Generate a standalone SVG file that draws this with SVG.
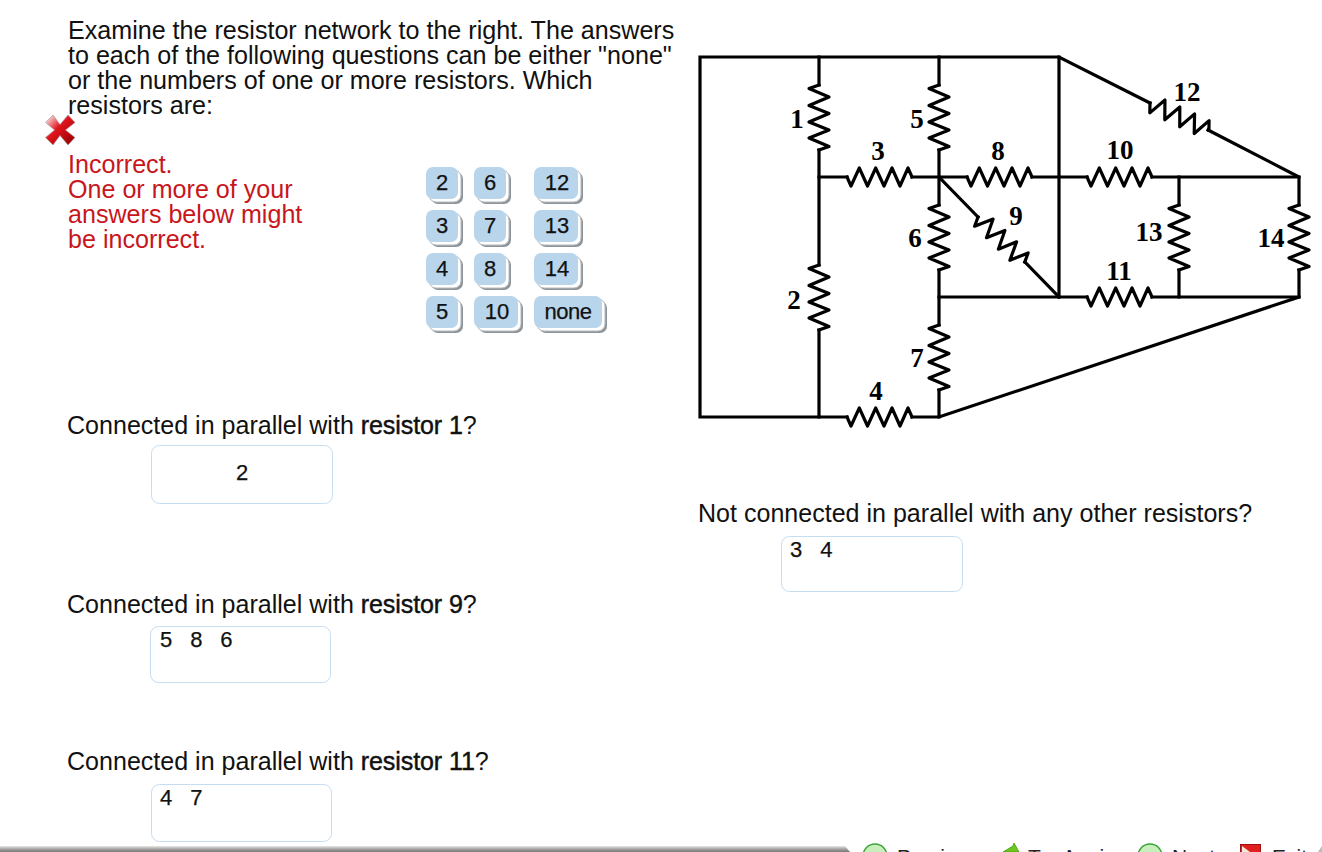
<svg xmlns="http://www.w3.org/2000/svg" width="1322" height="852" viewBox="0 0 1322 852">
<style>
.t{font-family:"Liberation Sans",Arial,sans-serif;font-size:25.1px;fill:#111}
.q{font-family:"Liberation Sans",Arial,sans-serif;font-size:25.05px;fill:#111}
.b{stroke:#111;stroke-width:.45px;letter-spacing:-.1px}
.r{fill:#c8161c}
.w{fill:none;stroke:#000;stroke-width:3.2;stroke-linejoin:miter;stroke-linecap:square}
.zz{fill:none;stroke:#000;stroke-width:3.2;stroke-linejoin:round;stroke-linecap:square}
.l{font-family:"Liberation Serif","Times New Roman",serif;font-weight:bold;font-size:27px;text-anchor:middle;fill:#000}
.a{font-family:"Liberation Sans",Arial,sans-serif;font-size:22px;fill:#111;stroke:#111;stroke-width:.25px}
.n{word-spacing:11.800px}
.f{font-family:"Liberation Sans",Arial,sans-serif;font-size:21px;fill:#222}
.c{text-anchor:middle}
.box{fill:#fff;stroke:#c6dcf1;stroke-width:1}
.btn{fill:#b9d5ec}
.s1{fill:#fff;stroke:#b5b9bd;stroke-width:1}
.s2{fill:#8d9499}
</style>
<defs>
<path id="z" class="zz" d="M0 0L4 9L12.300 -9L20.500 9L28.700 -9L37 9L45 -9L53 9L61 -9L65 0"/>
<path id="v" class="zz" d="M0 0L-10 3.500L10 12L-10 20.500L10 28.500L-10 37L10 45L-10 53L10 61.500L0 65"/>
<linearGradient id="bar" x1="0" y1="0" x2="0" y2="1"><stop offset="0" stop-color="#e8e8e8"/><stop offset=".5" stop-color="#a5a5a5"/><stop offset="1" stop-color="#777"/></linearGradient>
<linearGradient id="xg" x1="0" y1="0" x2="1" y2="1"><stop offset=".08" stop-color="#f7dcdc"/><stop offset=".42" stop-color="#e2141c"/><stop offset="1" stop-color="#8c0000"/></linearGradient>
</defs>
<rect width="1322" height="852" fill="#fff"/>

<g id="intro">
<text class="t" x="68" y="38.600">Examine the resistor network to the right. The answers</text>
<text class="t" x="68" y="63.600">to each of the following questions can be either "none"</text>
<text class="t" x="68" y="88.600">or the numbers of one or more resistors. Which</text>
<text class="t" x="68" y="113.600">resistors are:</text>
</g>
<g id="incorrect-icon">
<path d="M45.500 122.500L53 115L60 124.500L68 115L75 122.500L65.500 130L75 137.500L68 145L60 135.500L53 145L45.500 137.500L54.500 130Z" fill="url(#xg)" stroke="#a8a0a0" stroke-width=".7"/>
</g>
<g id="feedback">
<text class="t r" x="68" y="172.600">Incorrect.</text>
<text class="t r" x="68" y="197.600">One or more of your</text>
<text class="t r" x="68" y="222.600">answers below might</text>
<text class="t r" x="68" y="247.600">be incorrect.</text>
</g>

<g id="answer-bank">
<g id="btn-2"><rect x="431" y="172" width="32" height="32" rx="7" class="s2"/><rect x="429" y="170" width="32" height="32" rx="7" class="s1"/><rect x="426" y="167" width="32" height="32" rx="7" class="btn"/><text class="a c" x="442" y="190">2</text></g>
<g id="btn-3"><rect x="431" y="215" width="32" height="32" rx="7" class="s2"/><rect x="429" y="213" width="32" height="32" rx="7" class="s1"/><rect x="426" y="210" width="32" height="32" rx="7" class="btn"/><text class="a c" x="442" y="233">3</text></g>
<g id="btn-4"><rect x="431" y="258" width="32" height="32" rx="7" class="s2"/><rect x="429" y="256" width="32" height="32" rx="7" class="s1"/><rect x="426" y="253" width="32" height="32" rx="7" class="btn"/><text class="a c" x="442" y="276">4</text></g>
<g id="btn-5"><rect x="431" y="301" width="32" height="32" rx="7" class="s2"/><rect x="429" y="299" width="32" height="32" rx="7" class="s1"/><rect x="426" y="296" width="32" height="32" rx="7" class="btn"/><text class="a c" x="442" y="319">5</text></g>
<g id="btn-6"><rect x="479" y="172" width="32" height="32" rx="7" class="s2"/><rect x="477" y="170" width="32" height="32" rx="7" class="s1"/><rect x="474" y="167" width="32" height="32" rx="7" class="btn"/><text class="a c" x="490" y="190">6</text></g>
<g id="btn-7"><rect x="479" y="215" width="32" height="32" rx="7" class="s2"/><rect x="477" y="213" width="32" height="32" rx="7" class="s1"/><rect x="474" y="210" width="32" height="32" rx="7" class="btn"/><text class="a c" x="490" y="233">7</text></g>
<g id="btn-8"><rect x="479" y="258" width="32" height="32" rx="7" class="s2"/><rect x="477" y="256" width="32" height="32" rx="7" class="s1"/><rect x="474" y="253" width="32" height="32" rx="7" class="btn"/><text class="a c" x="490" y="276">8</text></g>
<g id="btn-10"><rect x="479" y="301" width="44" height="32" rx="7" class="s2"/><rect x="477" y="299" width="44" height="32" rx="7" class="s1"/><rect x="474" y="296" width="44" height="32" rx="7" class="btn"/><text class="a c" x="497" y="319">10</text></g>
<g id="btn-12"><rect x="539" y="172" width="44" height="32" rx="7" class="s2"/><rect x="537" y="170" width="44" height="32" rx="7" class="s1"/><rect x="534" y="167" width="44" height="32" rx="7" class="btn"/><text class="a c" x="557" y="190">12</text></g>
<g id="btn-13"><rect x="539" y="215" width="44" height="32" rx="7" class="s2"/><rect x="537" y="213" width="44" height="32" rx="7" class="s1"/><rect x="534" y="210" width="44" height="32" rx="7" class="btn"/><text class="a c" x="557" y="233">13</text></g>
<g id="btn-14"><rect x="539" y="258" width="44" height="32" rx="7" class="s2"/><rect x="537" y="256" width="44" height="32" rx="7" class="s1"/><rect x="534" y="253" width="44" height="32" rx="7" class="btn"/><text class="a c" x="557" y="276">14</text></g>
<g id="btn-none"><rect x="539" y="301" width="68" height="32" rx="7" class="s2"/><rect x="537" y="299" width="68" height="32" rx="7" class="s1"/><rect x="534" y="296" width="68" height="32" rx="7" class="btn"/><text class="a c" x="568" y="319" letter-spacing="-.5">none</text></g>
</g>

<g id="q1"><text class="q" x="67" y="434.400">Connected in parallel with <tspan class="b">resistor 1</tspan>?</text><rect class="box" x="151.500" y="445.500" width="181" height="58" rx="8"/><text class="a c" x="242" y="480">2</text></g>
<g id="q2"><text class="q" x="67" y="612.600">Connected in parallel with <tspan class="b">resistor 9</tspan>?</text><rect class="box" x="150.500" y="626.500" width="180" height="56" rx="8"/><text class="a n" x="160" y="647">5 8 6</text></g>
<g id="q3"><text class="q" x="67" y="770.400">Connected in parallel with <tspan class="b">resistor 11</tspan>?</text><rect class="box" x="151.500" y="784.500" width="180" height="57" rx="8"/><text class="a n" x="160" y="805">4 7</text></g>
<g id="q4"><text class="q" x="698" y="521.600">Not connected in parallel with any other resistors?</text><rect class="box" x="781.500" y="536.500" width="181" height="55" rx="8"/><text class="a n" x="790" y="556.500">3 4</text></g>

<g id="connectors">
<path class="w" d="M700 417V57H1059L1150 103M1208 130L1299 177V205M1299 270V297L939 417H912M847 417H700"/>
<path class="w" d="M819 57V85M819 150V265M819 330V417M939 57V85M939 150V205M939 270V325M939 390V417M1059 57V297"/>
<path class="w" d="M819 177H847M912 177H967M1032 177H1087M1152 177H1299M939 297H1087M1152 297H1299"/>
<path class="w" d="M1179 177V205M1179 270V297M939 177L978 217M1025 262L1059 297"/>
</g>

<g id="r1"><use href="#v" transform="translate(819 85)"/><text class="l" x="797" y="128">1</text></g>
<g id="r2"><use href="#v" transform="translate(819 265)"/><text class="l" x="794" y="309">2</text></g>
<g id="r3"><use href="#z" transform="translate(847 177)"/><text class="l" x="878" y="160">3</text></g>
<g id="r4"><use href="#z" transform="translate(847 417)"/><text class="l" x="876" y="400">4</text></g>
<g id="r5"><use href="#v" transform="translate(939 85)"/><text class="l" x="917" y="128">5</text></g>
<g id="r6"><use href="#v" transform="translate(939 205)"/><text class="l" x="915" y="247">6</text></g>
<g id="r7"><use href="#v" transform="translate(939 325)"/><text class="l" x="917" y="367">7</text></g>
<g id="r8"><use href="#z" transform="translate(967 177)"/><text class="l" x="998" y="160">8</text></g>
<g id="r9"><use href="#z" transform="translate(978 217) rotate(44)"/><text class="l" x="1016" y="225">9</text></g>
<g id="r10"><use href="#z" transform="translate(1087 177)"/><text class="l" x="1120" y="159">10</text></g>
<g id="r11"><use href="#z" transform="translate(1087 297)"/><text class="l" x="1119" y="280">11</text></g>
<g id="r12"><use href="#z" transform="translate(1150 103) rotate(25)"/><text class="l" x="1187" y="101">12</text></g>
<g id="r13"><use href="#v" transform="translate(1179 205)"/><text class="l" x="1149" y="241">13</text></g>
<g id="r14"><use href="#v" transform="translate(1299 205)"/><text class="l" x="1271" y="247">14</text></g>

<g id="footer">
<path d="M0 846H845L850 852H0Z" fill="url(#bar)"/>
<circle cx="875" cy="856" r="12" fill="#c8eebb" stroke="#3aa53a" stroke-width="1.500"/>
<text class="f" x="897" y="864">Previous</text>
<path d="M1003 852L1013 846L1014 843L1019 852Z" fill="#6cc81c" stroke="#3e9a10" stroke-width=".8"/>
<text class="f" x="1028" y="864">Try Again</text>
<circle cx="1150" cy="856" r="12" fill="#c8eebb" stroke="#3aa53a" stroke-width="1.500"/>
<text class="f" x="1172" y="864">Next</text>
<rect x="1240.500" y="844.500" width="20" height="12" fill="#e02020" stroke="#a01010"/>
<path d="M1242 846L1250 852H1242Z" fill="#f4e8d8"/>
<text class="f" x="1272" y="864">Exit</text>
<path d="M1318 852L1322 846V852Z" fill="#bbb"/>
</g>
</svg>
